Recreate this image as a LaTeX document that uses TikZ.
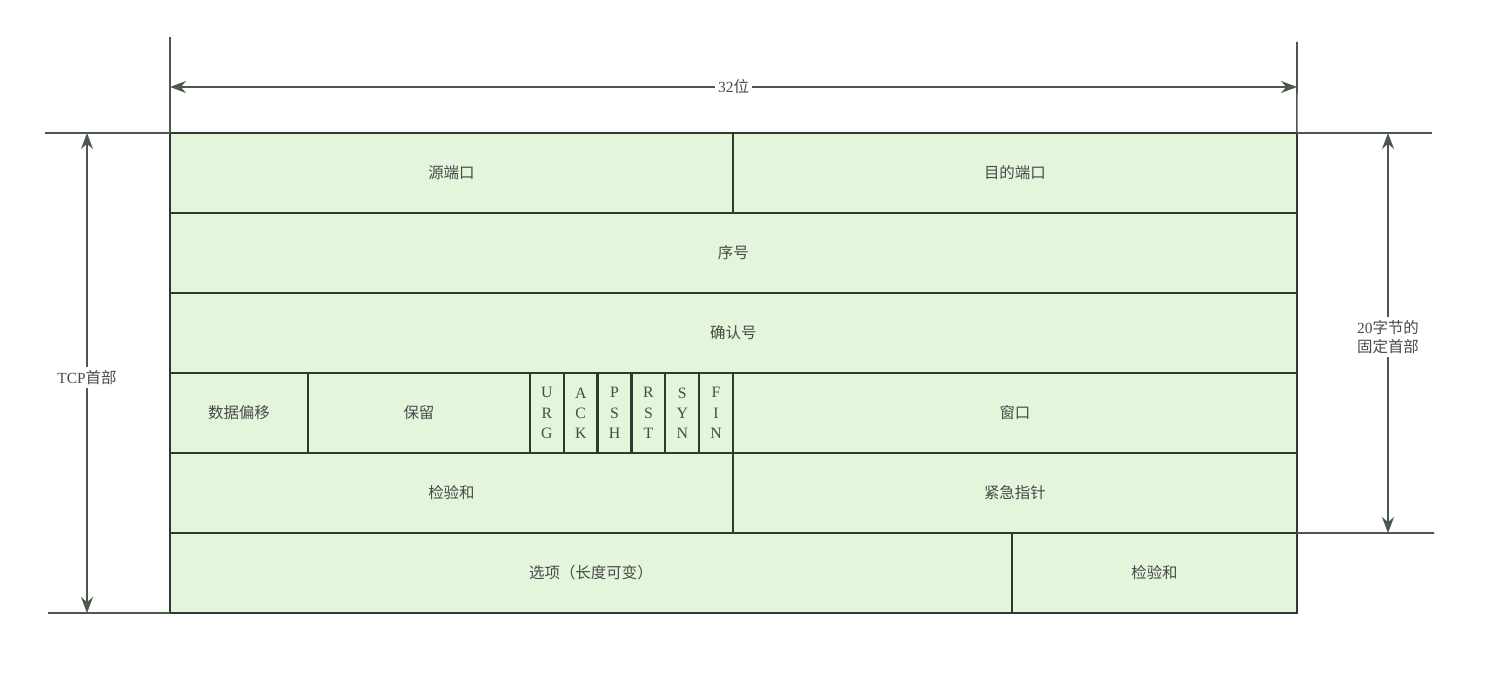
\documentclass[tikz,border=0pt]{standalone}
\usepackage{fontspec}
\setmainfont{Liberation Serif}
\newfontfamily\zh{Noto Sans CJK SC}
\usetikzlibrary{arrows.meta}
\definecolor{cellg}{HTML}{E3F5DA}
\definecolor{linec}{HTML}{2E3A2E}
\definecolor{textc}{HTML}{4A4A4A}
\tikzset{
  field/.style={draw=linec, fill=cellg, line width=1.3pt, inner sep=0pt,
    outer sep=0pt, anchor=north west, minimum height=1.6cm, text=textc,
    font=\zh\fontsize{8.8}{10}\selectfont},
  flag/.style={field, minimum width=0.6767cm, align=center,
    font=\fontsize{9}{11.5}\selectfont},
  dimline/.style={draw=linec!85, line width=0.9pt},
  dimarrow/.style={dimline, {Stealth[length=3.2mm,width=2.4mm]}-{Stealth[length=3.2mm,width=2.4mm]}},
  dimlabel/.style={fill=white, text=textc, inner sep=2pt,
    font=\fontsize{8.8}{11}\selectfont}
}
\begin{document}
\begin{tikzpicture}[x=0.02cm, y=-0.02cm]
   \useasboundingbox (0,0) rectangle (1486,692);
   % rows of the header
   \node[field, minimum width=11.26cm] (src) at (170,133) {源端口};
   \node[field, minimum width=11.28cm] (dst) at (733,133) {目的端口};
   \node[field, minimum width=22.54cm] (seq) at (170,213) {序号};
   \node[field, minimum width=22.54cm] (ack) at (170,293) {确认号};
   \node[field, minimum width=2.76cm] (off) at (170,373) {数据偏移};
   \node[field, minimum width=4.44cm] (res) at (308,373) {保留};
   \node[flag] (urg) at (530,373) {U\\R\\G};
   \node[flag] (fack) at (563.8,373) {A\\C\\K};
   \node[flag] (psh) at (597.7,373) {P\\S\\H};
   \node[flag] (rst) at (631.5,373) {R\\S\\T};
   \node[flag] (syn) at (665.3,373) {S\\Y\\N};
   \node[flag] (fin) at (699.2,373) {F\\I\\N};
   \node[field, minimum width=11.28cm] (win) at (733,373) {窗口};
   \node[field, minimum width=11.26cm] (sum) at (170,453) {检验和};
   \node[field, minimum width=11.28cm] (urp) at (733,453) {紧急指针};
   \node[field, minimum width=16.84cm] (opt) at (170,533) {选项（长度可变）};
   \node[field, minimum width=5.70cm] (pad) at (1012,533) {检验和};
   % extension lines
   \coordinate (tl) at (170,37);
   \coordinate (tr) at (1297,42);
   \coordinate (lt) at (45,133);
   \coordinate (lb) at (48,613);
   \coordinate (rt) at (1432,133);
   \coordinate (rb) at (1434,533);
   \draw[dimline] (tl) -- (src.north west);
   \draw[dimline] (tr) -- (dst.north east);
   \draw[dimline] (lt) -- (src.north west);
   \draw[dimline] (lb) -- (opt.south west);
   \draw[dimline] (rt) -- (dst.north east);
   \draw[dimline] (rb) -- (urp.south east);
   % dimension arrows
   \coordinate (wl) at (170,87);
   \coordinate (wr) at (1297,87);
   \coordinate (ht) at (87,133);
   \coordinate (hb) at (87,613);
   \coordinate (ft) at (1388,133);
   \coordinate (fb) at (1388,533);
   \draw[dimarrow] (wl) -- node[dimlabel] (bits) {32{\zh 位}} (wr);
   \draw[dimarrow] (ht) -- node[dimlabel, pos=0.51] (hdr) {TCP{\zh 首部}} (hb);
   \draw[dimarrow] (ft) -- node[dimlabel, align=center, pos=0.51] (fix)
      {20{\zh 字节的}\\{\zh 固定首部}} (fb);
\end{tikzpicture}
\end{document}
